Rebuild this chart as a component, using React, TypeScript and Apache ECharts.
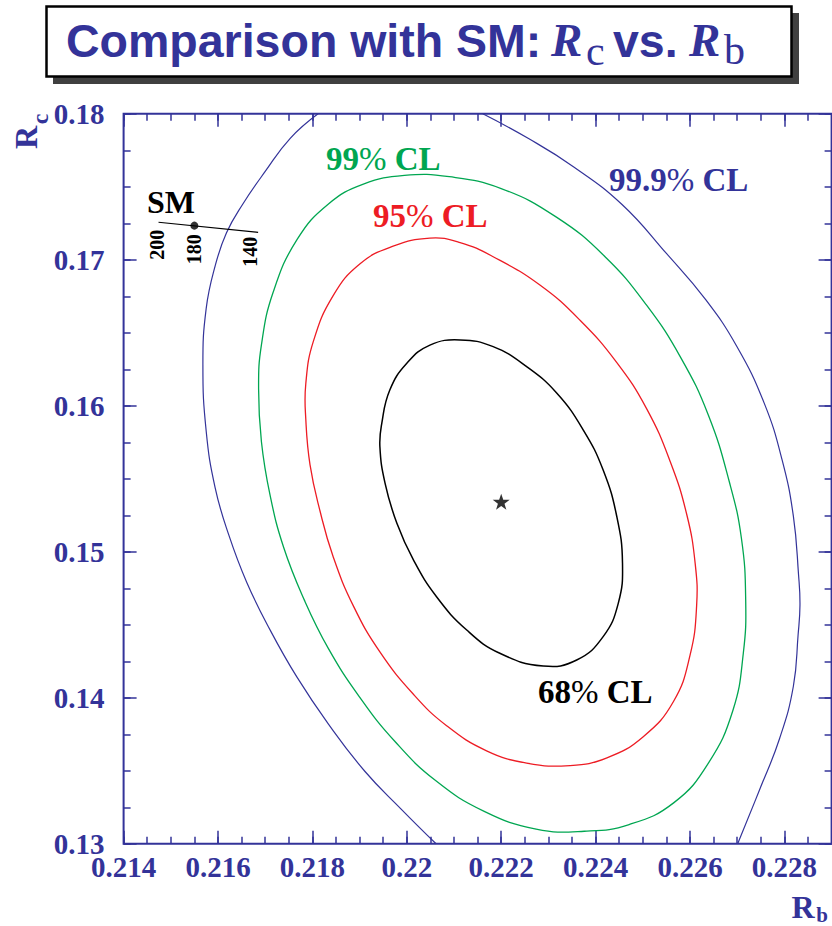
import { useEffect, useRef } from 'react';
import * as echarts from 'echarts';

const BLUE = '#333399';
const GREEN = '#00a651';
const RED = '#ed1c24';
const BLACK = '#000000';
const SERIF = '"Liberation Serif", "Times New Roman", Times, serif';
const SANS = '"Liberation Sans", Arial, Helvetica, sans-serif';

// Axis ranges (R_b horizontal, R_c vertical)
const rbMin = 0.214;
const rbMax = 0.229;
const rcMin = 0.13;
const rcMax = 0.18;
const rbMajor = 0.002;
const rbMinor = 0.0005;
const rcMajor = 0.01;
const rcMinor = 0.0025;

// Fit result
const bestFit: [number, number] = [0.222, 0.15343];

// 68% CL contour
const contour68: [number, number][] = [
  [0.21947, 0.1588], [0.21943, 0.1572], [0.21954, 0.15469], [0.21979, 0.15195],
  [0.22014, 0.14944], [0.22063, 0.14692], [0.22127, 0.14464], [0.22197, 0.14305],
  [0.22289, 0.14218], [0.2236, 0.14259], [0.22416, 0.14419], [0.22448, 0.14647],
  [0.22457, 0.14921], [0.22445, 0.1524], [0.22416, 0.1556], [0.22374, 0.15834],
  [0.22318, 0.16086], [0.22254, 0.16268], [0.22183, 0.16405], [0.22113, 0.16451],
  [0.22049, 0.16416], [0.22, 0.16291], [0.21964, 0.16108],
];

// 95% CL contour
const contour95: [number, number][] = [
  [0.21786, 0.15909], [0.21795, 0.15595], [0.21816, 0.15281], [0.21844, 0.14966],
  [0.21887, 0.14628], [0.21943, 0.14314], [0.22014, 0.14024], [0.22085, 0.13807],
  [0.22169, 0.13637], [0.22254, 0.13553], [0.22346, 0.13536], [0.22424, 0.13589],
  [0.22501, 0.13734], [0.22565, 0.13975], [0.226, 0.1429], [0.22614, 0.14628],
  [0.22611, 0.14919], [0.22593, 0.15257], [0.22558, 0.15619], [0.22508, 0.15981],
  [0.22445, 0.16296], [0.22367, 0.16586], [0.22282, 0.16827], [0.22183, 0.17021],
  [0.22113, 0.17118], [0.22049, 0.17149], [0.21971, 0.17093], [0.21901, 0.16973],
  [0.21844, 0.16755], [0.21802, 0.16441], [0.21786, 0.16151],
];

// 99% CL contour
const contour99: [number, number][] = [
  [0.21686, 0.16116], [0.21692, 0.15754], [0.2171, 0.15393], [0.21739, 0.15031],
  [0.21783, 0.14669], [0.21834, 0.14337], [0.219, 0.14005], [0.21974, 0.13704],
  [0.22061, 0.13433], [0.22164, 0.13222], [0.22274, 0.13101], [0.22376, 0.13086],
  [0.22471, 0.13132], [0.22566, 0.13282], [0.22639, 0.13553], [0.22691, 0.13915],
  [0.22713, 0.14307], [0.22718, 0.14669], [0.22709, 0.15091], [0.22683, 0.15483],
  [0.22639, 0.15935], [0.22581, 0.16327], [0.22508, 0.16689], [0.2242, 0.17021],
  [0.22317, 0.17292], [0.222, 0.17488], [0.2209, 0.17569], [0.21995, 0.17578],
  [0.21908, 0.17518], [0.21834, 0.17382], [0.21768, 0.17141], [0.21717, 0.16779],
  [0.21692, 0.16417],
];

// 99.9% CL contour, left and right branches inside the frame
const contour999Left: [number, number][] = [
  [0.21812, 0.18], [0.21753, 0.17832], [0.217, 0.17605], [0.21652, 0.17379],
  [0.21618, 0.17185], [0.21594, 0.16958], [0.21575, 0.16667], [0.21568, 0.16279],
  [0.21575, 0.15826], [0.21594, 0.15438], [0.21623, 0.15114], [0.21661, 0.1479],
  [0.2171, 0.14467], [0.21767, 0.14143], [0.21834, 0.1382], [0.21911, 0.13497],
  [0.21988, 0.13238], [0.22062, 0.13],
];
const contour999Right: [number, number][] = [
  [0.22161, 0.18], [0.22257, 0.17832], [0.22353, 0.17638], [0.22456, 0.17379],
  [0.22551, 0.1704], [0.22632, 0.16732], [0.22699, 0.16408], [0.22757, 0.1602],
  [0.22795, 0.15631], [0.22819, 0.15244], [0.2283, 0.14841], [0.22833, 0.14636],
  [0.22829, 0.1443], [0.22819, 0.14079], [0.2279, 0.13723], [0.22747, 0.13367],
  [0.22701, 0.13],
];

// Standard Model prediction line (top mass scan) and its 180 GeV point
const smLine: [number, number][] = [[0.21474, 0.17257], [0.21685, 0.17188]];
const smPoint: [number, number] = [0.2155, 0.17234];
const smMassLabels = ['200', '180', '140'];

const clLabels = ['68', '95', '99', '99.9'];

const STAR =
  'path://M50,0 L61.8,35.1 98.5,35.1 68.8,57.4 79.4,91.9 50,70.5 20.6,91.9 31.2,57.4 1.5,35.1 38.2,35.1 Z';

// A contour drawn as one smooth closed (polygon) or open (polyline) curve
// through the listed points, positioned by the cartesian axes.
function contourSeries(points: [number, number][], color: string, width: number, closed: boolean) {
  return {
    type: 'custom',
    coordinateSystem: 'cartesian2d',
    xAxisIndex: 0,
    yAxisIndex: 0,
    data: [points[0]],
    silent: true,
    z: 3,
    renderItem: (_params: any, api: any) => {
      const pts = points.map((p) => api.coord(p));
      return {
        type: closed ? 'polygon' : 'polyline',
        shape: { points: pts, smooth: 0.45 },
        style: { fill: 'none', stroke: color, lineWidth: width },
        silent: true,
      };
    },
  };
}

function xAxisDef(position: string, interval: number, length: number, labels: boolean) {
  return {
    type: 'value',
    position,
    min: rbMin,
    max: rbMax,
    interval,
    axisLine: { show: false },
    splitLine: { show: false },
    axisTick: { show: true, inside: true, length, lineStyle: { color: BLUE, width: 1.5 } },
    axisLabel: labels
      ? {
          show: true,
          color: BLUE,
          fontFamily: SERIF,
          fontWeight: 'bold',
          fontSize: 29,
          margin: 9,
          showMaxLabel: false,
        }
      : { show: false },
  };
}

function yAxisDef(position: string, interval: number, length: number, labels: boolean) {
  return {
    type: 'value',
    position,
    min: rcMin,
    max: rcMax,
    interval,
    axisLine: { show: false },
    splitLine: { show: false },
    axisTick: { show: true, inside: true, length, lineStyle: { color: BLUE, width: 1.5 } },
    axisLabel: labels
      ? {
          show: true,
          color: BLUE,
          fontFamily: SERIF,
          fontWeight: 'bold',
          fontSize: 29,
          margin: 19,
        }
      : { show: false },
  };
}

function clText(x: number, y: number, value: string, color: string) {
  return {
    type: 'text',
    x,
    y,
    z: 10,
    style: {
      text: `{n|${value}}{p|%}{n| CL}`,
      fill: color,
      align: 'left',
      verticalAlign: 'middle',
      rich: {
        n: { fontFamily: SERIF, fontWeight: 'bold', fontSize: 33, fill: color },
        p: { fontFamily: SERIF, fontWeight: 'normal', fontSize: 33, fill: color },
      },
    },
  };
}

function plainText(
  x: number,
  y: number,
  text: string,
  font: string,
  color: string,
  rotation = 0,
  align = 'left'
) {
  return {
    type: 'text',
    x,
    y,
    rotation,
    z: 10,
    style: { text, font, fill: color, align, verticalAlign: 'middle' },
  };
}

export default function App() {
  const ref = useRef<HTMLDivElement>(null);

  useEffect(() => {
    if (!ref.current) return;
    const chart = echarts.init(ref.current, undefined, { renderer: 'svg' });

    const option = {
      animation: false,
      backgroundColor: '#ffffff',
      grid: {
        left: 123.6,
        top: 113.8,
        width: 708,
        height: 730,
        show: true,
        borderColor: BLUE,
        borderWidth: 2,
        backgroundColor: 'transparent',
      },
      xAxis: [
        xAxisDef('bottom', rbMajor, 13, true),
        xAxisDef('bottom', rbMinor, 7, false),
        xAxisDef('top', rbMajor, 13, false),
        xAxisDef('top', rbMinor, 7, false),
      ],
      yAxis: [
        yAxisDef('left', rcMajor, 13, true),
        yAxisDef('left', rcMinor, 7, false),
        yAxisDef('right', rcMajor, 13, false),
        yAxisDef('right', rcMinor, 7, false),
      ],
      series: [
        contourSeries(contour999Left, BLUE, 1.2, false),
        contourSeries(contour999Right, BLUE, 1.2, false),
        contourSeries(contour99, GREEN, 1.3, true),
        contourSeries(contour95, RED, 1.3, true),
        contourSeries(contour68, BLACK, 1.5, true),
        {
          type: 'line',
          data: smLine,
          symbol: 'none',
          lineStyle: { color: BLACK, width: 1.2 },
          silent: true,
          z: 4,
        },
        {
          type: 'scatter',
          data: [smPoint],
          symbol: 'circle',
          symbolSize: 8,
          itemStyle: { color: BLACK },
          silent: true,
          z: 5,
        },
        {
          type: 'scatter',
          data: [bestFit],
          symbol: STAR,
          symbolSize: [17, 16],
          itemStyle: { color: BLACK },
          silent: true,
          z: 5,
        },
      ],
      graphic: [
        // title box with drop shadow
        {
          type: 'rect',
          z: 1,
          shape: { x: 53, y: 13, width: 746, height: 71 },
          style: { fill: '#404040' },
        },
        {
          type: 'rect',
          z: 2,
          shape: { x: 46.5, y: 6.5, width: 745, height: 70 },
          style: { fill: '#ffffff', stroke: '#000000', lineWidth: 2.5 },
        },
        plainText(66, 41, 'Comparison with SM:', `bold 46.5px ${SANS}`, BLUE),
        plainText(551, 40, 'R', `italic bold 47px ${SERIF}`, BLUE),
        plainText(586, 51, 'c', `42px ${SERIF}`, BLUE),
        plainText(613, 41, 'vs.', `bold 46.5px ${SANS}`, BLUE),
        plainText(689, 40, 'R', `italic bold 47px ${SERIF}`, BLUE),
        plainText(724, 50, 'b', `42px ${SERIF}`, BLUE),

        // axis titles
        plainText(26, 137.5, 'R', `bold 32px ${SERIF}`, BLUE, Math.PI / 2, 'center'),
        plainText(40, 119, 'c', `bold 24px ${SERIF}`, BLUE, Math.PI / 2, 'center'),
        plainText(803, 907, 'R', `bold 32px ${SERIF}`, BLUE, 0, 'center'),
        plainText(822, 915, 'b', `bold 21px ${SERIF}`, BLUE, 0, 'center'),

        // confidence level labels
        clText(538, 692, clLabels[0], BLACK),
        clText(373, 216, clLabels[1], RED),
        clText(326, 159, clLabels[2], GREEN),
        clText(609, 180, clLabels[3], BLUE),

        // SM line annotations
        plainText(147, 202, 'SM', `bold 32px ${SERIF}`, BLACK),
        plainText(156.7, 244.7, smMassLabels[0], `bold 20px ${SERIF}`, BLACK, Math.PI / 2, 'center'),
        plainText(194.2, 249.2, smMassLabels[1], `bold 20px ${SERIF}`, BLACK, Math.PI / 2, 'center'),
        plainText(250, 251.7, smMassLabels[2], `bold 20px ${SERIF}`, BLACK, Math.PI / 2, 'center'),
      ],
    };

    chart.setOption(option as any);
    return () => {
      chart.dispose();
    };
  }, []);

  return (
    <div
      ref={ref}
      style={{ position: 'absolute', left: 0, top: 0, width: 832, height: 926, background: '#fff' }}
    />
  );
}
